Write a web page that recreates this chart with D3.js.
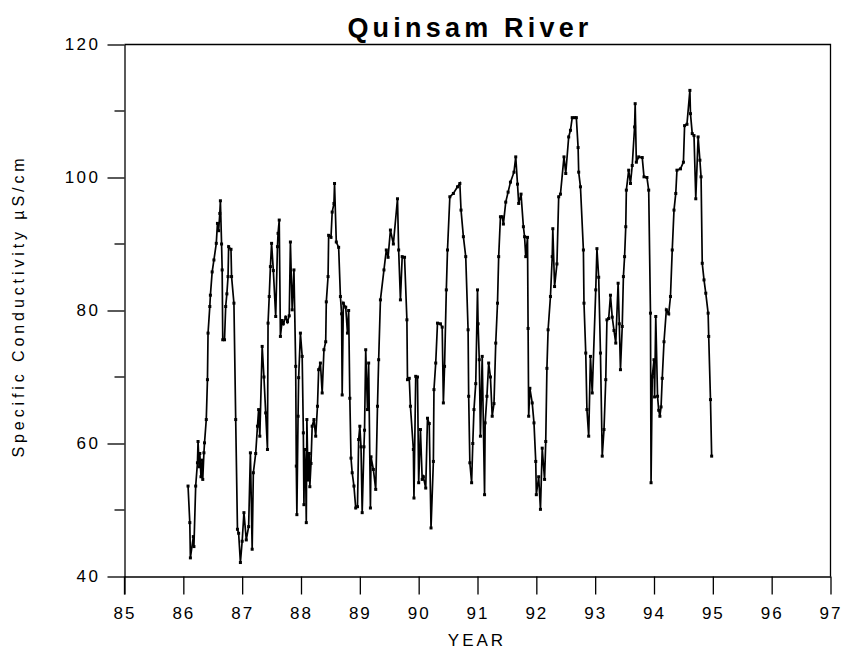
<!DOCTYPE html>
<html>
<head>
<meta charset="utf-8">
<script src="https://cdn.jsdelivr.net/npm/d3@7"></script>
<style>
  html, body { margin: 0; padding: 0; background: #fff; }
  svg { display: block; }
  text { font-family: Arial, "Liberation Sans", sans-serif; fill: #000; }
</style>
</head>
<body>
<svg id="chart" width="847" height="656"></svg>
<script>
const title = "Quinsam River";
const xLabel = "YEAR";
const yLabel = "Specific Conductivity  µS/cm";
const xTicks = [85, 86, 87, 88, 89, 90, 91, 92, 93, 94, 95, 96, 97];
const yTicks = [40, 60, 80, 100, 120];
const yMinorTicks = [50, 70, 90, 110];

const years = [
  86.08, 86.11, 86.12, 86.17, 86.18, 86.21, 86.24, 86.25, 86.27, 86.28,
  86.30, 86.32, 86.33, 86.35, 86.36, 86.39, 86.41, 86.42, 86.45, 86.46,
  86.49, 86.52, 86.56, 86.58, 86.60, 86.62, 86.63, 86.65, 86.66, 86.67,
  86.70, 86.72, 86.74, 86.76, 86.77, 86.81, 86.82, 86.86, 86.89, 86.92,
  86.94, 86.97, 87.00, 87.03, 87.07, 87.11, 87.14, 87.17, 87.19, 87.23,
  87.26, 87.28, 87.30, 87.34, 87.37, 87.40, 87.43, 87.44, 87.46, 87.48,
  87.50, 87.53, 87.57, 87.60, 87.61, 87.63, 87.65, 87.68, 87.70, 87.74,
  87.77, 87.80, 87.82, 87.85, 87.88, 87.91, 87.92, 87.93, 87.95, 87.96,
  87.99, 88.02, 88.04, 88.05, 88.06, 88.08, 88.09, 88.10, 88.12, 88.14,
  88.15, 88.17, 88.19, 88.22, 88.25, 88.28, 88.30, 88.33, 88.36, 88.39,
  88.42, 88.43, 88.46, 88.47, 88.51, 88.53, 88.56, 88.57, 88.60, 88.64,
  88.67, 88.69, 88.70, 88.72, 88.76, 88.79, 88.81, 88.83, 88.85, 88.87,
  88.90, 88.93, 88.96, 88.98, 89.00, 89.02, 89.04, 89.07, 89.08, 89.10,
  89.13, 89.15, 89.18, 89.19, 89.23, 89.27, 89.30, 89.32, 89.35, 89.41,
  89.45, 89.48, 89.52, 89.57, 89.64, 89.66, 89.69, 89.72, 89.76, 89.80,
  89.81, 89.84, 89.86, 89.91, 89.92, 89.95, 89.98, 90.00, 90.03, 90.06,
  90.08, 90.12, 90.15, 90.18, 90.21, 90.25, 90.26, 90.29, 90.32, 90.37,
  90.40, 90.42, 90.44, 90.47, 90.49, 90.53, 90.59, 90.66, 90.70, 90.72,
  90.76, 90.80, 90.84, 90.85, 90.87, 90.90, 90.92, 90.94, 90.97, 91.00,
  91.01, 91.03, 91.05, 91.08, 91.12, 91.13, 91.16, 91.19, 91.22, 91.25,
  91.28, 91.31, 91.34, 91.36, 91.39, 91.42, 91.44, 91.48, 91.52, 91.56,
  91.62, 91.65, 91.68, 91.70, 91.74, 91.78, 91.80, 91.82, 91.85, 91.86,
  91.87, 91.89, 91.93, 91.96, 91.99, 92.00, 92.04, 92.07, 92.10, 92.14,
  92.16, 92.18, 92.20, 92.24, 92.27, 92.28, 92.31, 92.35, 92.38, 92.41,
  92.47, 92.50, 92.55, 92.58, 92.61, 92.65, 92.68, 92.71, 92.72, 92.75,
  92.80, 92.81, 92.84, 92.86, 92.89, 92.92, 92.95, 93.01, 93.03, 93.06,
  93.09, 93.12, 93.15, 93.18, 93.20, 93.23, 93.26, 93.29, 93.32, 93.35,
  93.39, 93.41, 93.43, 93.46, 93.48, 93.50, 93.52, 93.53, 93.57, 93.60,
  93.63, 93.67, 93.68, 93.70, 93.74, 93.80, 93.83, 93.88, 93.91, 93.94,
  93.95, 93.97, 94.00, 94.01, 94.03, 94.06, 94.08, 94.10, 94.12, 94.14,
  94.17, 94.21, 94.25, 94.28, 94.31, 94.34, 94.37, 94.39, 94.45, 94.50,
  94.52, 94.56, 94.61, 94.62, 94.65, 94.68, 94.71, 94.75, 94.78, 94.80,
  94.82, 94.85, 94.88, 94.92, 94.93, 94.96, 94.98
];

const conductivity = [
  53.6, 48.1, 42.8, 46.0, 44.5, 53.6, 57.1, 60.3, 56.5, 58.5,
  55.0, 57.5, 54.6, 58.6, 60.1, 63.6, 69.6, 76.6, 80.6, 82.3,
  85.8, 87.6, 90.1, 93.1, 92.0, 94.6, 96.5, 90.0, 86.1, 75.6,
  75.6, 80.6, 82.5, 85.1, 89.6, 89.2, 85.1, 81.1, 63.6, 47.1,
  46.5, 42.1, 45.3, 49.6, 45.5, 47.5, 58.6, 44.1, 55.6, 58.5,
  62.6, 65.1, 61.1, 74.6, 70.0, 64.6, 59.1, 78.1, 82.1, 86.6,
  90.1, 86.0, 79.1, 89.6, 91.6, 93.6, 76.1, 78.5, 78.0, 79.0,
  78.3, 79.2, 90.3, 80.1, 86.1, 71.6, 56.6, 49.3, 64.1, 69.9,
  76.6, 73.1, 61.6, 50.8, 59.1, 55.0, 48.1, 63.6, 54.5, 58.5,
  53.5, 57.0, 62.6, 63.6, 61.1, 65.6, 71.1, 72.1, 67.6, 74.1,
  75.3, 81.3, 85.1, 91.3, 91.0, 94.8, 96.1, 99.1, 90.3, 89.5,
  82.1, 79.5, 67.3, 81.1, 80.5, 76.6, 80.0, 66.8, 57.8, 55.6,
  53.6, 50.3, 50.5, 60.6, 62.6, 59.5, 49.6, 59.5, 62.0, 74.1,
  65.1, 72.1, 50.3, 58.0, 56.1, 53.1, 65.6, 72.6, 81.6, 86.1,
  89.1, 88.0, 92.1, 90.0, 96.8, 89.1, 81.6, 88.1, 88.0, 78.6,
  69.6, 69.8, 65.6, 59.1, 51.8, 70.1, 70.0, 54.1, 62.1, 54.6,
  55.0, 53.3, 63.8, 63.0, 47.3, 57.3, 68.1, 72.1, 78.1, 78.0,
  77.5, 66.1, 71.6, 83.1, 89.1, 97.1, 97.6, 98.6, 99.1, 95.1,
  91.1, 88.1, 77.1, 67.1, 57.1, 54.1, 60.0, 65.1, 69.0, 83.1,
  78.0, 72.6, 61.1, 73.1, 52.3, 63.1, 67.1, 72.1, 70.0, 64.1,
  66.0, 75.1, 81.1, 88.1, 94.1, 94.1, 93.0, 96.3, 97.8, 99.3,
  100.8, 103.1, 99.0, 96.1, 97.5, 92.6, 91.1, 88.1, 91.0, 77.3,
  64.1, 68.3, 66.1, 63.1, 57.3, 52.3, 55.0, 50.1, 59.3, 54.6,
  60.3, 71.3, 77.1, 82.1, 88.1, 92.3, 83.6, 87.0, 97.1, 97.5,
  103.1, 100.6, 106.1, 107.1, 109.0, 109.0, 109.0, 104.5, 100.8, 98.6,
  89.1, 81.1, 73.6, 65.1, 61.1, 73.1, 67.6, 83.1, 89.3, 85.0,
  73.6, 58.1, 62.1, 69.6, 78.6, 78.8, 82.3, 79.0, 77.0, 75.1,
  84.1, 78.0, 71.1, 77.6, 85.1, 88.1, 92.6, 98.1, 101.1, 99.1,
  101.8, 107.6, 111.1, 102.3, 103.1, 103.0, 100.1, 100.0, 98.1, 79.6,
  54.1, 70.0, 72.6, 67.0, 79.1, 67.1, 65.0, 64.1, 65.5, 69.8,
  75.3, 80.1, 79.5, 82.1, 89.1, 95.1, 97.6, 101.1, 101.3, 102.3,
  107.8, 108.0, 113.1, 109.6, 106.6, 106.3, 96.8, 106.1, 102.6, 100.1,
  87.1, 84.6, 82.6, 79.6, 76.1, 66.6, 58.1
];

const data = years.map((yr, i) => ({ year: yr, value: conductivity[i] }));

const svg = d3.select("#chart");
const mLeft = 124.5, mRight = 830.5, mTop = 44.5, mBottom = 576.5;

const x = d3.scaleLinear().domain([85, 97]).range([mLeft, mRight]);
const y = d3.scaleLinear().domain([40, 120]).range([mBottom, mTop]);

// frame (top and right)
svg.append("path")
  .attr("d", `M${mLeft},${mTop}H${mRight}V${mBottom}`)
  .attr("fill", "none").attr("stroke", "#000").attr("stroke-width", 1.3);

// x axis
const gx = svg.append("g").attr("transform", `translate(0,${mBottom})`)
  .call(d3.axisBottom(x).tickValues(xTicks).tickFormat(d3.format("d")).tickSize(18).tickSizeOuter(0).tickPadding(12));
gx.select(".domain").attr("stroke-width", 1.3);
gx.selectAll(".tick line").attr("stroke-width", 1.3);
gx.selectAll(".tick text").attr("font-size", 17).attr("letter-spacing", "2px")
  .attr("font-family", "Arial, 'Liberation Sans', sans-serif");

// y axis
const gy = svg.append("g").attr("transform", `translate(${mLeft},0)`)
  .call(d3.axisLeft(y).tickValues(yTicks).tickFormat(d3.format("d")).tickSize(17).tickSizeOuter(0).tickPadding(7));
gy.select(".domain").attr("stroke-width", 1.3);
gy.selectAll(".tick line").attr("stroke-width", 1.3);
gy.selectAll(".tick text").attr("font-size", 17).attr("letter-spacing", "2.5px")
  .attr("font-family", "Arial, 'Liberation Sans', sans-serif");

// extend y axis line down to the end of the 85 tick
svg.append("line").attr("x1", mLeft).attr("x2", mLeft).attr("y1", mBottom).attr("y2", mBottom + 18)
  .attr("stroke", "#000").attr("stroke-width", 1.3);

// minor y ticks
svg.append("g").selectAll("line").data(yMinorTicks).join("line")
  .attr("x1", mLeft - 10).attr("x2", mLeft)
  .attr("y1", d => y(d)).attr("y2", d => y(d))
  .attr("stroke", "#000").attr("stroke-width", 1.3);

// data line
const line = d3.line().x(d => x(d.year)).y(d => y(d.value));
svg.append("path").datum(data)
  .attr("d", line)
  .attr("fill", "none").attr("stroke", "#000").attr("stroke-width", 1.7)
  .attr("stroke-linejoin", "miter");

svg.append("g").selectAll("rect").data(data).join("rect")
  .attr("x", d => x(d.year) - 1.5).attr("y", d => y(d.value) - 1.5)
  .attr("width", 3).attr("height", 3).attr("fill", "#000");

// title
svg.append("text").attr("x", 470).attr("y", 37).attr("text-anchor", "middle")
  .attr("font-size", 27).attr("font-weight", "bold").attr("letter-spacing", "4.2px")
  .text(title);

// x label
svg.append("text").attr("x", 477).attr("y", 646).attr("text-anchor", "middle")
  .attr("font-size", 17).attr("letter-spacing", "3px")
  .text(xLabel);

// y label
svg.append("text").attr("transform", "translate(24,306) rotate(-90)")
  .attr("text-anchor", "middle").attr("font-size", 16).attr("letter-spacing", "3.9px")
  .text(yLabel);
</script>
</body>
</html>
